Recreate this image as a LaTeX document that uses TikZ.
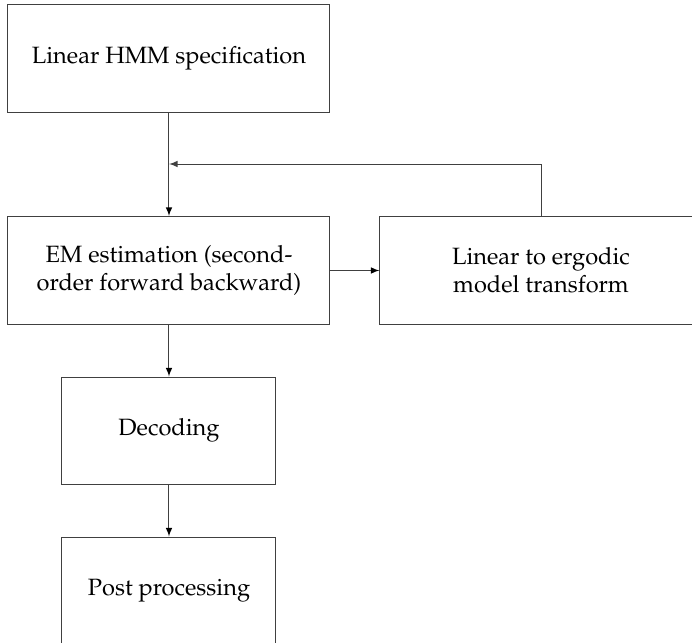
\documentclass[tikz,border=0pt]{standalone}
\usepackage[T1]{fontenc}
\usepackage{mathpazo}
\usetikzlibrary{positioning}

\tikzset{
  block/.style={draw=black!75, line width=0.5pt, align=center, inner sep=0pt,
    minimum width=161pt, minimum height=54pt, font=\fontsize{11.8}{14}\selectfont},
  smallblock/.style={block, minimum width=107pt, minimum height=53.5pt},
  link/.style={->, draw=black!75, line width=0.5pt}
}

\begin{document}
\begin{tikzpicture}[>=latex, node distance=80pt, on grid, auto]
\useasboundingbox (-84.5pt,29pt) rectangle (261.5pt,-292.5pt);
% blocks of the flow
\node [block] (spec) {Linear HMM specification};
\node [block] (em) [below=106.25pt of spec] {EM estimation (second-\\order forward backward)};
\node [block] (ergodic) [right=186pt of em] {Linear to ergodic\\model transform};
\node [smallblock] (decoding) [below=of em] {Decoding};
\node [smallblock] (post) [below=of decoding] {Post processing};
\coordinate [below=53pt of spec] (join);
% arrows between blocks
\path[link]
(spec) edge (em)
(em) edge (ergodic)
(em) edge (decoding)
(decoding) edge (post)
;
\draw[link] (ergodic.north) |- (join);
\end{tikzpicture}
\end{document}
